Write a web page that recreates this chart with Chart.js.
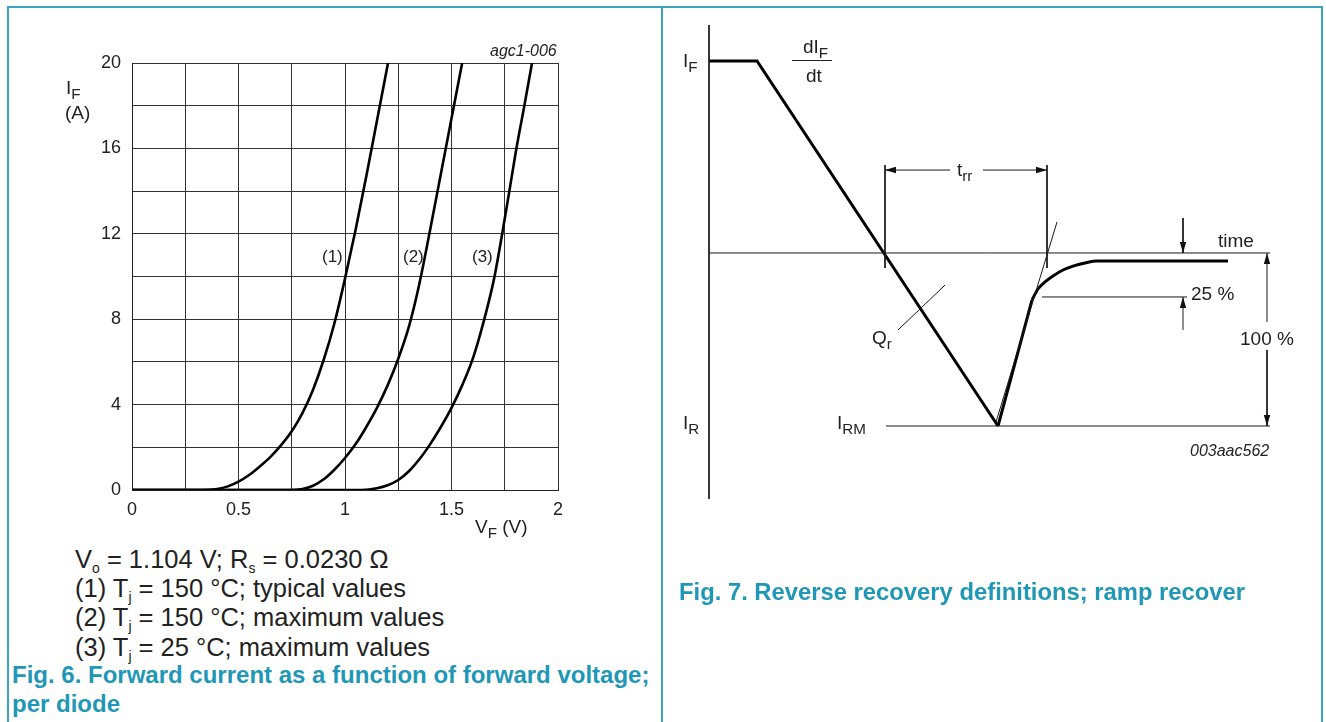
<!DOCTYPE html>
<html>
<head>
<meta charset="utf-8">
<script src="https://cdn.jsdelivr.net/npm/chart.js@4.4.0/dist/chart.umd.min.js"></script>
<style>
  body { margin: 0; background: #fff; }
  #page { position: relative; width: 1326px; height: 722px; overflow: hidden; font-family: "Liberation Sans", Arial, sans-serif; color: #222; }
  canvas { position: absolute; }
  .frame { position: absolute; background: #3ba2c0; }
  .t { position: absolute; white-space: nowrap; line-height: 1; }
  .t sub { font-size: 0.8em; vertical-align: -0.3em; line-height: 0; }
  .note sub { font-size: 0.55em; vertical-align: -0.35em; }
  .cap { position: absolute; white-space: nowrap; line-height: 1; font-weight: bold; color: #1f97b6; font-size: 24px; }
  .it { font-style: italic; }
</style>
</head>
<body>
<div id="page">
  <div class="frame" style="left:7px; top:6px; width:1316px; height:2px;"></div>
  <div class="frame" style="left:7px; top:6px; width:2px; height:716px;"></div>
  <div class="frame" style="left:661px; top:6px; width:2px; height:716px;"></div>
  <div class="frame" style="left:1321px; top:6px; width:2px; height:716px;"></div>

  <canvas id="fwd" width="662" height="540" style="left:0; top:0;"></canvas>
  <canvas id="rec" width="660" height="722" style="left:662px; top:0;"></canvas>

  <!-- left panel texts -->
  <div class="t it" style="left:490px; top:43px; font-size:16px;">agc1-006</div>
  <div class="t" style="left:66px; top:78px; font-size:19px;">I<sub>F</sub></div>
  <div class="t" style="left:65px; top:103px; font-size:19px;">(A)</div>
  <div class="t" style="left:475px; top:517px; font-size:19px;">V<sub>F</sub> (V)</div>
  <div class="t" style="left:322px; top:248px; font-size:17px;">(1)</div>
  <div class="t" style="left:403px; top:248px; font-size:17px;">(2)</div>
  <div class="t" style="left:472px; top:248px; font-size:17px;">(3)</div>

  <div class="t note" style="left:75px; top:547px; font-size:25.5px;">V<sub>o</sub> = 1.104 V; R<sub>s</sub> = 0.0230 Ω</div>
  <div class="t note" style="left:75px; top:576px; font-size:25.5px;">(1) T<sub>j</sub> = 150 °C; typical values</div>
  <div class="t note" style="left:75px; top:605px; font-size:25.5px;">(2) T<sub>j</sub> = 150 °C; maximum values</div>
  <div class="t note" style="left:75px; top:635px; font-size:25.5px;">(3) T<sub>j</sub> = 25 °C; maximum values</div>
  <div class="cap" style="left:12px; top:663px;">Fig. 6. Forward current as a function of forward voltage;</div>
  <div class="cap" style="left:12px; top:692px;">per diode</div>

  <!-- right panel texts -->
  <div class="t" style="left:683px; top:51px; font-size:19px;">I<sub>F</sub></div>
  <div class="t" style="left:683px; top:413px; font-size:19px;">I<sub>R</sub></div>
  <div class="t" style="left:803px; top:37px; font-size:19px;">dI<sub>F</sub></div>
  <div style="position:absolute; left:792px; top:60px; width:40px; height:1px; background:#222;"></div>
  <div class="t" style="left:806px; top:66px; font-size:19px;">dt</div>
  <div class="t" style="left:957px; top:160px; font-size:19px;">t<sub>rr</sub></div>
  <div class="t" style="left:1218px; top:231px; font-size:19px;">time</div>
  <div class="t" style="left:1191px; top:284px; font-size:19px;">25 %</div>
  <div class="t" style="left:1240px; top:329px; font-size:19px;">100 %</div>
  <div class="t" style="left:872px; top:328px; font-size:19px;">Q<sub>r</sub></div>
  <div class="t" style="left:837px; top:413px; font-size:19px;">I<sub>RM</sub></div>
  <div class="t it" style="left:1190px; top:443px; font-size:16px;">003aac562</div>
  <div class="cap" style="left:679px; top:580px; font-size:23.8px;">Fig. 7. Reverse recovery definitions; ramp recover</div>
</div>

<script>
// Fig. 6 - forward current vs forward voltage (V, A)
const vf1 = [0, 0.33, 0.40, 0.45, 0.5, 0.55, 0.6, 0.65, 0.7, 0.75, 0.8, 0.85, 0.9, 0.95, 1.0, 1.05, 1.1, 1.15, 1.202];
const if1 = [0, 0, 0.05, 0.17, 0.39, 0.7, 1.1, 1.55, 2.1, 2.75, 3.6, 4.7, 6.1, 7.8, 9.9, 12.2, 14.7, 17.3, 20];
const vf2 = [0, 0.74, 0.8, 0.85, 0.9, 0.95, 1.0, 1.05, 1.1, 1.15, 1.2, 1.25, 1.3, 1.35, 1.4, 1.45, 1.5, 1.55];
const if2 = [0, 0, 0.05, 0.2, 0.5, 0.95, 1.5, 2.15, 2.95, 3.85, 4.9, 6.15, 7.65, 9.7, 12.2, 14.8, 17.4, 20];
const vf3 = [0, 1.08, 1.15, 1.2, 1.25, 1.3, 1.35, 1.4, 1.45, 1.5, 1.55, 1.6, 1.65, 1.7, 1.738, 1.77, 1.803, 1.842, 1.878];
const if3 = [0, 0, 0.08, 0.22, 0.47, 0.88, 1.45, 2.15, 2.95, 3.85, 4.9, 6.15, 7.85, 9.9, 12, 13.9, 15.9, 18, 20];

// Fig. 7 - schematic waveform, time in arbitrary units, current relative to I_F
const iF = 1;
const iRM = -0.901;
const iTail = -0.042;
const rampT = [0, 0.48, 2.89];
const rampI = [iF, iF, iRM];
const riseT = [2.89, 3.23];
const riseI = [iRM, -0.245];
const kneeT = [3.23, 3.29, 3.36, 3.44, 3.54, 3.64, 3.76, 3.88, 5.19];
const kneeI = [-0.245, -0.1875, -0.151, -0.12, -0.0885, -0.068, -0.052, iTail, iTail];
const tangentT = [2.87, 3.48];
const tangentI = [-0.88, 0.161];
const trrStart = 1.76, trrEnd = 3.38;
const trrTop = 0.458, trrBottom = -0.078, trrArrow = 0.432;
const timeEnd = 5.61;
const level25 = -0.229;
const markT = 4.74, fullT = 5.58;

const pts = (xs, ys) => xs.map((x, i) => ({ x, y: ys[i] }));

const fontFamily = '"Liberation Sans", Arial, sans-serif';

const curve = (xs, ys) => ({
  data: pts(xs, ys),
  showLine: true,
  borderColor: '#000',
  borderWidth: 2.6,
  pointRadius: 0,
  cubicInterpolationMode: 'monotone'
});

new Chart(document.getElementById('fwd'), {
  type: 'scatter',
  data: { datasets: [curve(vf1, if1), curve(vf2, if2), curve(vf3, if3)] },
  options: {
    responsive: false,
    animation: false,
    layout: { padding: { left: 0, top: 63, right: 104, bottom: 10 } },
    plugins: { legend: { display: false }, tooltip: { enabled: false } },
    scales: {
      x: {
        type: 'linear', min: 0, max: 2,
        afterFit: s => { s.height = 40; },
        ticks: {
          stepSize: 0.25, padding: 9, color: '#222', autoSkip: false, maxRotation: 0,
          font: { size: 18, family: fontFamily },
          callback: v => (Math.round(v * 4) % 2 === 0 ? String(v) : '')
        },
        grid: { color: '#333', lineWidth: 1, drawTicks: false },
        border: { color: '#222', width: 1 }
      },
      y: {
        type: 'linear', min: 0, max: 20,
        afterFit: s => { s.width = 132; },
        ticks: {
          stepSize: 2, padding: 11, color: '#222', autoSkip: false,
          font: { size: 18, family: fontFamily },
          callback: v => (v % 4 === 0 ? String(v) : '')
        },
        grid: { color: '#333', lineWidth: 1, drawTicks: false },
        border: { color: '#222', width: 1 }
      }
    }
  }
});

// arrowheads at the end of datasets flagged with arrow: true
const arrowHeads = {
  id: 'arrowHeads',
  afterDatasetsDraw(chart) {
    const ctx = chart.ctx;
    chart.data.datasets.forEach((ds, i) => {
      if (!ds.arrow) return;
      const el = chart.getDatasetMeta(i).data;
      const a = el[el.length - 2], b = el[el.length - 1];
      const ang = Math.atan2(b.y - a.y, b.x - a.x);
      ctx.save();
      ctx.translate(b.x, b.y);
      ctx.rotate(ang);
      ctx.beginPath();
      ctx.moveTo(0, 0);
      ctx.lineTo(-11, -3.2);
      ctx.lineTo(-11, 3.2);
      ctx.closePath();
      ctx.fillStyle = '#111';
      ctx.fill();
      ctx.restore();
    });
  }
};

const thin = (xs, ys, arrow) => ({
  data: pts(xs, ys), showLine: true, borderColor: '#1a1a1a', borderWidth: 1, pointRadius: 0, arrow: !!arrow
});
const thick = (xs, ys, extra) => Object.assign({
  data: pts(xs, ys), showLine: true, borderColor: '#000', borderWidth: 3, pointRadius: 0, borderJoinStyle: 'miter'
}, extra || {});

new Chart(document.getElementById('rec'), {
  type: 'scatter',
  data: {
    datasets: [
      thin([0, 0], [1.1875, -1.281]),                      // current axis
      thin([0, timeEnd], [0, 0]),                           // time axis
      thin([1.77, timeEnd], [iRM, iRM]),                    // I_RM level
      thin([trrStart, trrStart], [trrTop, trrBottom]),
      thin([trrEnd, trrEnd], [trrTop, trrBottom]),
      thin([2.41, trrStart], [trrArrow, trrArrow], true),
      thin([2.74, trrEnd], [trrArrow, trrArrow], true),
      thin(tangentT, tangentI),
      thin([3.33, 4.78], [level25, level25]),               // 25 % level
      thin([markT, markT], [0.182, 0], true),
      thin([markT, markT], [-0.401, level25], true),
      thin([fullT, fullT], [-0.359, 0], true),
      thin([fullT, fullT], [-0.505, iRM], true),
      thin([2.36, 1.89], [-0.167, -0.401]),                 // Q_r leader
      thick(rampT, rampI),
      thick(riseT, riseI),
      thick(kneeT, kneeI, { cubicInterpolationMode: 'monotone' })
    ]
  },
  options: {
    responsive: false,
    animation: false,
    layout: { padding: 0 },
    plugins: { legend: { display: false }, tooltip: { enabled: false } },
    scales: {
      x: { type: 'linear', display: false, min: -0.47, max: 6.13 },
      y: { type: 'linear', display: false, min: -2.4427, max: 1.3177 }
    }
  },
  plugins: [arrowHeads]
});
</script>
</body>
</html>
